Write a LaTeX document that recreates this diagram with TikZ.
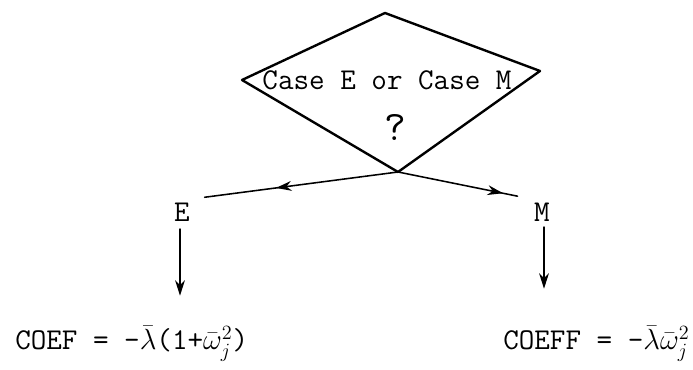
\documentclass[tikz,border=0pt]{standalone}
\usetikzlibrary{decorations.markings, arrows.meta}
\begin{document}
\begin{tikzpicture}[scale=1, font=\ttfamily\fontsize{21.5}{26}\selectfont, line join=round, line cap=round, >={Stealth[length=11pt,width=7pt]},
	midarrow/.style={postaction={decorate}, decoration={markings, mark=at position #1 with {\arrow{Stealth[length=11pt,width=7pt]}}}}]
	\useasboundingbox (0,0) rectangle (17.325,9.25);
	% Hình thoi (quyết định)
	\coordinate (top) at (9.625,8.925);
	\coordinate (rgt) at (13.5,7.475);
	\coordinate (bot) at (9.95,4.95);
	\coordinate (lft) at (6.05,7.25);
	\draw[line width=1.7pt] (lft) -- (top) -- (rgt) -- (bot) -- cycle;
	\node[anchor=base] (ask) at (9.675,7.0) {Case E or Case M};
	\node (qmark) at (9.875,6.075) {\fontsize{30}{34}\selectfont ?};
	% Hai nhánh
	\node[anchor=base] (E) at (4.55,3.7) {E};
	\node[anchor=base] (M) at (13.55,3.7) {M};
	\draw[line width=1.1pt, midarrow=0.6, shorten >=0.25cm] (bot) -- (E.north east);
	\draw[line width=1.1pt, midarrow=0.8, shorten >=0.3cm] (bot) -- (M.north west);
	% Công thức
	\node[anchor=base west, inner sep=0] (coefL) at (0.375,0.5) {COEF = -$\bar{\lambda}$(1+$\bar{\omega}^{2}_{j}$)};
	\node[anchor=base west, inner sep=0] (coefR) at (12.575,0.5) {COEFF = -$\bar{\lambda}\bar{\omega}^{2}_{j}$};
	\draw[->, line width=1pt] ([xshift=-0.05cm,yshift=-0.05cm]E.south) -- ([xshift=-0.05cm,yshift=0.75cm]E.south |- coefL.north);
	\draw[->, line width=1pt] ([xshift=0.05cm]M.south) -- ([xshift=0.05cm,yshift=0.925cm]M.south |- coefR.north);
\end{tikzpicture}
\end{document}
